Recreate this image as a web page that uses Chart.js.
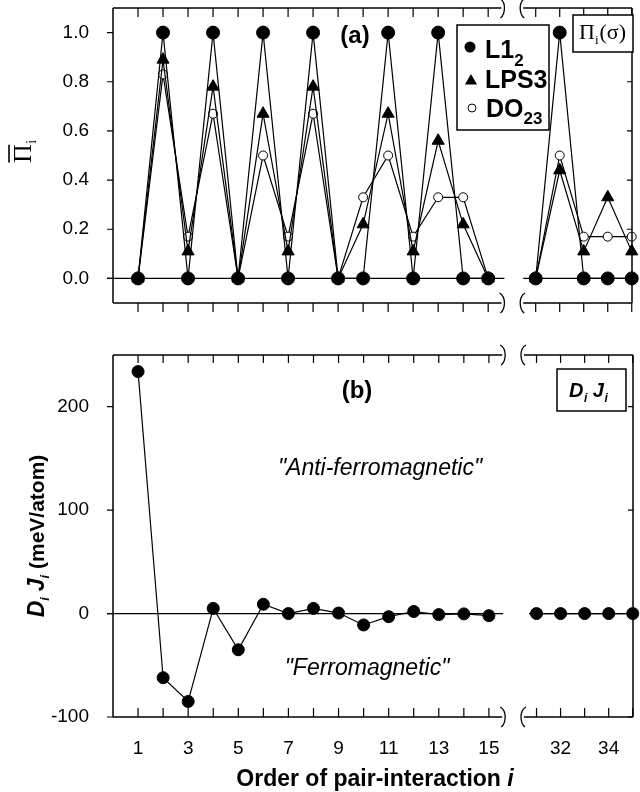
<!DOCTYPE html>
<html>
<head>
<meta charset="utf-8">
<script src="https://cdn.jsdelivr.net/npm/chart.js@4.4.1/dist/chart.umd.min.js"></script>
<style>
html,body{margin:0;padding:0;background:#ffffff;}
#wrap{position:relative;width:640px;height:792px;overflow:hidden;background:#fff;}
#wrap canvas{position:absolute;left:0;top:0;}
</style>
</head>
<body>
<div id="wrap">
<canvas id="chartA" width="640" height="792"></canvas>
<canvas id="chartB" width="640" height="792"></canvas>
</div>
<script>
// ---------------- data ----------------
const orderLeft  = [1,2,3,4,5,6,7,8,9,10,11,12,13,14,15];
const orderRight = [31,32,33,34,35];

const l12Left   = [0,1,0,1,0,1,0,1,0,0,1,0,1,0,0];
const l12Right  = [0,1,0,0,0];
const lps3Left  = [0,0.89,0.11,0.78,0,0.67,0.11,0.78,0,0.22,0.67,0.11,0.56,0.22,0];
const lps3Right = [0,0.44,0.11,0.33,0.11];
const do23Left  = [0,0.83,0.17,0.67,0,0.5,0.17,0.67,0,0.33,0.5,0.17,0.33,0.33,0];
const do23Right = [0,0.5,0.17,0.17,0.17];

const djLeft  = [234,-62,-85,5,-35,9,0,5,0.5,-11,-3,2,-1,-0.3,-2];
const djRight = [0,0,0,0,0];

const piTicks = [0,0.2,0.4,0.6,0.8,1.0];
const djTicks = [-100,0,100,200];
const xLabelOrders = [1,3,5,7,9,11,13,15,32,34];

// ---------------- layout (broken axis) ----------------
const RIGHT_START = 16.9, RIGHT_STEP = 0.96;
const X_MIN = 0, X_MAX = 20.75;
const BREAK_L = 15.53, BREAK_R = 16.4;
function axisPos(i){ return i <= 15 ? i : RIGHT_START + (i - 31) * RIGHT_STEP; }

const SANS = '"Liberation Sans", Arial, Helvetica, sans-serif';
const SERIF = '"Liberation Serif", "Times New Roman", serif';

function buildSeries(leftVals, rightVals){
  const pts = orderLeft.map((o,k)=>({x:axisPos(o), y:leftVals[k]}));
  pts.push({x:(axisPos(15)+axisPos(31))/2, y:null});
  orderRight.forEach((o,k)=>pts.push({x:axisPos(o), y:rightVals[k]}));
  return pts;
}

function txt(ctx, s, x, y, font, align, base){
  ctx.font = font; ctx.textAlign = align || 'left'; ctx.textBaseline = base || 'alphabetic';
  ctx.fillStyle = '#000'; ctx.fillText(s, x, y);
  return ctx.measureText(s).width;
}
function breakMark(ctx, x, y, dir){
  ctx.beginPath();
  ctx.moveTo(x - 2*dir, y - 10);
  ctx.bezierCurveTo(x + 5*dir, y - 6, x + 4*dir, y + 6, x - 1*dir, y + 10);
  ctx.stroke();
}
function zeroLine(chart, endL, startR){
  const {ctx, chartArea:{left,right}, scales:{x,y}} = chart;
  const y0 = y.getPixelForValue(0);
  const bL = x.getPixelForValue(BREAK_L), bR = x.getPixelForValue(BREAK_R);
  ctx.save(); ctx.strokeStyle='#000'; ctx.lineWidth=1.3;
  ctx.beginPath();
  ctx.moveTo(left-6, y0); ctx.lineTo(bL+endL, y0);
  ctx.moveTo(bR+startR, y0); ctx.lineTo(right, y0);
  ctx.stroke(); ctx.restore();
}
function drawFrame(chart, cfg){
  const {ctx, chartArea:{left,right,top,bottom}, scales:{x,y}} = chart;
  const bL = x.getPixelForValue(BREAK_L), bR = x.getPixelForValue(BREAK_R);
  ctx.save();
  ctx.strokeStyle = '#000'; ctx.lineWidth = 1.5;
  ctx.beginPath();
  [top,bottom].forEach(yy=>{ ctx.moveTo(left,yy); ctx.lineTo(bL,yy); ctx.moveTo(bR,yy); ctx.lineTo(right,yy); });
  ctx.moveTo(left,top); ctx.lineTo(left,bottom);
  ctx.moveTo(right,top); ctx.lineTo(right,bottom);
  ctx.stroke();
  ctx.lineWidth = 1.3;
  [top,bottom].forEach(yy=>{ breakMark(ctx,bL,yy,1); breakMark(ctx,bR,yy,-1); });
  ctx.lineWidth = 1.2;
  ctx.beginPath();
  orderLeft.concat(orderRight).forEach(o=>{
    const px = x.getPixelForValue(axisPos(o));
    ctx.moveTo(px, top); ctx.lineTo(px, top + cfg.topLen);
    ctx.moveTo(px, bottom); ctx.lineTo(px, bottom + cfg.bottomLen);
  });
  cfg.yTicks.forEach(v=>{
    const py = y.getPixelForValue(v);
    ctx.moveTo(left-6, py); ctx.lineTo(left, py);
    ctx.moveTo(right-5, py); ctx.lineTo(right, py);
  });
  ctx.stroke();
  ctx.restore();
}

function baseOptions(yMin, yMax, yTicks, yFmt, padTop, xHeight, showX){
  return {
    responsive:false, animation:false, devicePixelRatio:1, events:[],
    layout:{padding:{top:padTop, right:2, left:0, bottom:0}},
    plugins:{legend:{display:false}, tooltip:{enabled:false}},
    scales:{
      x:{type:'linear', min:X_MIN, max:X_MAX,
         grid:{display:false}, border:{display:false},
         ticks:{display:showX, autoSkip:false, maxRotation:0, padding:12, color:'#000',
                font:{family:SANS, size:19},
                callback:(v,idx)=>String(xLabelOrders[idx])},
         afterBuildTicks:(s)=>{ s.ticks = xLabelOrders.map(o=>({value:axisPos(o)})); },
         afterFit:(s)=>{ s.height = xHeight; s.paddingLeft=0; s.paddingRight=0; }},
      y:{type:'linear', min:yMin, max:yMax,
         grid:{display:false}, border:{display:false},
         ticks:{padding:16, color:'#000', font:{family:SANS, size:19}, callback:yFmt},
         afterBuildTicks:(s)=>{ s.ticks = yTicks.map(v=>({value:v})); },
         afterFit:(s)=>{ s.width = 113; s.paddingTop=0; s.paddingBottom=0; }}
    }
  };
}

// ---------------- chart (a) ----------------
const plotA = {
  id:'plotA',
  beforeDatasetsDraw(chart){ zeroLine(chart, 3, 0); },
  afterDatasetsDraw(chart){
    drawFrame(chart, {topLen:9, bottomLen:9, yTicks:piTicks});
    const ctx = chart.ctx;
    ctx.save();
    txt(ctx, '(a)', 355, 36, 'bold 24px '+SANS, 'center', 'middle');
    // legend box
    ctx.fillStyle='#fff'; ctx.fillRect(457,25,92,105);
    ctx.strokeStyle='#000'; ctx.lineWidth=1.5; ctx.strokeRect(457,25,92,105);
    ctx.fillStyle='#000';
    ctx.beginPath(); ctx.arc(470,47,5.5,0,Math.PI*2); ctx.fill();
    ctx.beginPath();
    for(let k=0;k<3;k++){ const a=k*2*Math.PI/3; const px=471+Math.sin(a)*7, py=81-Math.cos(a)*7; k?ctx.lineTo(px,py):ctx.moveTo(px,py); }
    ctx.closePath(); ctx.fill();
    ctx.beginPath(); ctx.arc(472,108,4,0,Math.PI*2); ctx.fillStyle='#fff'; ctx.fill(); ctx.lineWidth=1; ctx.strokeStyle='#000'; ctx.stroke();
    let w = txt(ctx, 'L1', 485, 58, 'bold 25px '+SANS);
    txt(ctx, '2', 485+w, 66, 'bold 17px '+SANS);
    txt(ctx, 'LPS3', 485, 88, 'bold 25px '+SANS);
    w = txt(ctx, 'DO', 486, 117, 'bold 25px '+SANS);
    txt(ctx, '23', 486+w, 124, 'bold 17px '+SANS);
    // Pi_i(sigma) box
    ctx.fillStyle='#fff'; ctx.fillRect(573,15,60,37);
    ctx.strokeStyle='#000'; ctx.lineWidth=1.5; ctx.strokeRect(573,15,60,37);
    w = txt(ctx, 'Π', 579, 39, '22px '+SERIF);
    const w2 = txt(ctx, 'i', 579+w, 44, '13px '+SERIF);
    txt(ctx, '(σ)', 579+w+w2+1, 39, '22px '+SERIF);
    // y title: Pi-bar_i
    ctx.save();
    ctx.translate(31, 163); ctx.rotate(-Math.PI/2);
    w = txt(ctx, 'Π', 0, 0, '26px '+SERIF);
    ctx.strokeStyle='#000'; ctx.lineWidth=1.6;
    ctx.beginPath(); ctx.moveTo(0.5,-22); ctx.lineTo(w-0.5,-22); ctx.stroke();
    txt(ctx, 'i', w+0.5, 5, '14px '+SERIF);
    ctx.restore();
    ctx.restore();
  }
};

const dsCommon = {borderColor:'#000', borderWidth:1.2, pointBorderColor:'#000', pointBorderWidth:1, spanGaps:false, clip:false, tension:0};

new Chart(document.getElementById('chartA'), {
  type:'line',
  data:{datasets:[
    Object.assign({label:'L12', data:buildSeries(l12Left,l12Right), pointStyle:'circle', pointRadius:6.5, pointBackgroundColor:'#000'}, dsCommon),
    Object.assign({label:'LPS3', data:buildSeries(lps3Left,lps3Right), pointStyle:'triangle', pointRadius:7, pointBackgroundColor:'#000'}, dsCommon),
    Object.assign({label:'DO23', data:buildSeries(do23Left,do23Right), pointStyle:'circle', pointRadius:4.5, pointBackgroundColor:'#fff'}, dsCommon)
  ]},
  options: baseOptions(-0.1, 1.1, piTicks, v=>Number(v).toFixed(1), 4, 489, false),
  plugins:[plotA]
});

// ---------------- chart (b) ----------------
const plotB = {
  id:'plotB',
  beforeDatasetsDraw(chart){ zeroLine(chart, 1, 5); },
  afterDatasetsDraw(chart){
    drawFrame(chart, {topLen:8, bottomLen:-9, yTicks:djTicks});
    const ctx = chart.ctx;
    ctx.save();
    txt(ctx, '(b)', 357, 391, 'bold 24px '+SANS, 'center', 'middle');
    // D_i J_i box
    ctx.fillStyle='#fff'; ctx.fillRect(557,369,69,42);
    ctx.strokeStyle='#000'; ctx.lineWidth=1.5; ctx.strokeRect(557,369,69,42);
    let x0 = 569;
    x0 += txt(ctx, 'D', x0, 397, 'italic bold 20px '+SANS);
    x0 += txt(ctx, 'i', x0+0.5, 402, 'italic bold 12px '+SANS) + 6;
    x0 += txt(ctx, 'J', x0, 397, 'italic bold 20px '+SANS);
    txt(ctx, 'i', x0+0.5, 402, 'italic bold 12px '+SANS);
    // regions
    txt(ctx, '"Anti-ferromagnetic"', 380, 475, 'italic 23px '+SANS, 'center');
    txt(ctx, '"Ferromagnetic"', 367, 675, 'italic 23px '+SANS, 'center');
    // y title
    const parts = [
      {t:'D', f:'italic bold 23px '+SANS, dy:0},
      {t:'i', f:'italic bold 13px '+SANS, dy:5},
      {t:' ', f:'bold 21px '+SANS, dy:0},
      {t:'J', f:'italic bold 23px '+SANS, dy:0},
      {t:'i', f:'italic bold 13px '+SANS, dy:5},
      {t:' (meV/atom)', f:'bold 21px '+SANS, dy:0}
    ];
    let W = 0;
    parts.forEach(p=>{ ctx.font=p.f; p.w = ctx.measureText(p.t).width; W += p.w; });
    ctx.save();
    ctx.translate(44, 536 + W/2); ctx.rotate(-Math.PI/2);
    let u = 0;
    parts.forEach(p=>{ txt(ctx, p.t, u, p.dy, p.f); u += p.w; });
    ctx.restore();
    // x title
    ctx.font = 'bold 23px '+SANS;
    const wa = ctx.measureText('Order of pair-interaction ').width;
    ctx.font = 'italic bold 23px '+SANS;
    const wb = ctx.measureText('i').width;
    const xs = 375 - (wa+wb)/2;
    txt(ctx, 'Order of pair-interaction ', xs, 786, 'bold 23px '+SANS);
    txt(ctx, 'i', xs+wa, 786, 'italic bold 23px '+SANS);
    ctx.restore();
  }
};

new Chart(document.getElementById('chartB'), {
  type:'line',
  data:{datasets:[
    Object.assign({label:'DJ', data:buildSeries(djLeft,djRight), pointStyle:'circle', pointRadius:6, pointBackgroundColor:'#000'}, dsCommon)
  ]},
  options: baseOptions(-100, 250, djTicks, v=>String(v), 355, 75, true),
  plugins:[plotB]
});
</script>
</body>
</html>
